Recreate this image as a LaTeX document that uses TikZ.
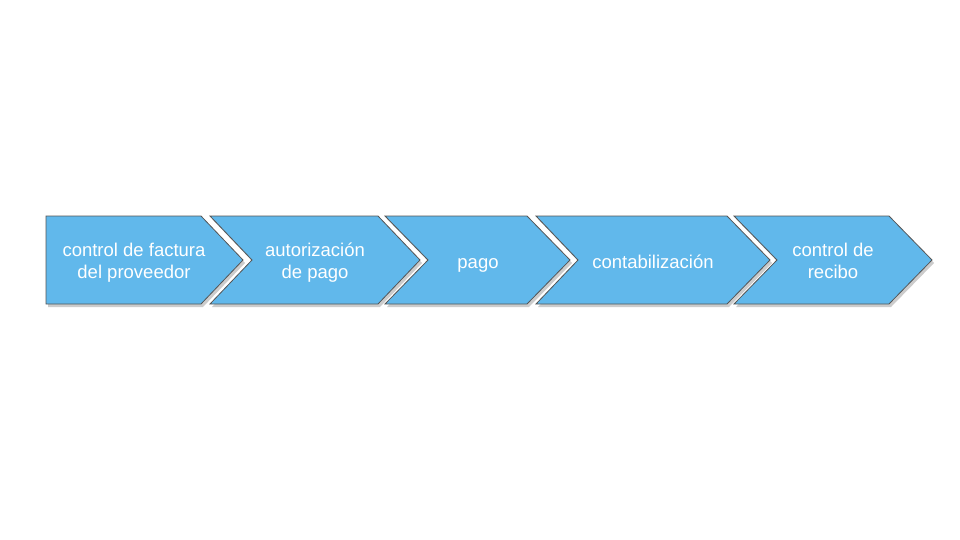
\documentclass[tikz,border=0pt]{standalone}
\usepackage{fontspec}
\setmainfont{Liberation Sans}
\usetikzlibrary{shadows}
\definecolor{stepblue}{RGB}{97,184,235}
\definecolor{stepedge}{RGB}{85,85,85}

\begin{document}
\begin{tikzpicture}[x=1pt,y=1pt]
                \tikzstyle{chevron}=[draw=stepedge, line width=0.8pt, fill=stepblue, drop shadow={shadow xshift=2pt, shadow yshift=-3pt, opacity=0.4}]
                \tikzstyle{steptext}=[text=white, font=\fontsize{18.5}{21.5}\selectfont, align=center, inner sep=0pt, anchor=base]
                \fill [white] (0,0) rectangle (960,-540);
                \useasboundingbox (0,0) rectangle (960,-540);
                \draw [chevron] (46,-216) -- (201,-216) -- (243,-260) -- (201,-304) -- (46,-304) -- cycle;
                \node [steptext] (ctrl) at (134,-278) {control de factura\\del proveedor};
                \draw [chevron] (210,-216) -- (378,-216) -- (420,-260) -- (378,-304) -- (210,-304) -- (252,-260) -- cycle;
                \node [steptext] (autor) at (315,-278) {autorización\\de pago};
                \draw [chevron] (385,-216) -- (527,-216) -- (570,-260) -- (527,-304) -- (385,-304) -- (428,-260) -- cycle;
                \node [steptext] (pago) at (478,-268) {pago};
                \draw [chevron] (536,-216) -- (727,-216) -- (770,-260) -- (727,-304) -- (536,-304) -- (578,-260) -- cycle;
                \node [steptext] (conta) at (653,-268) {contabilización};
                \draw [chevron] (734,-216) -- (889,-216) -- (932,-260) -- (889,-304) -- (734,-304) -- (777,-260) -- cycle;
                \node [steptext] (recibo) at (833,-278) {control de\\recibo};
              \end{tikzpicture}
\end{document}
